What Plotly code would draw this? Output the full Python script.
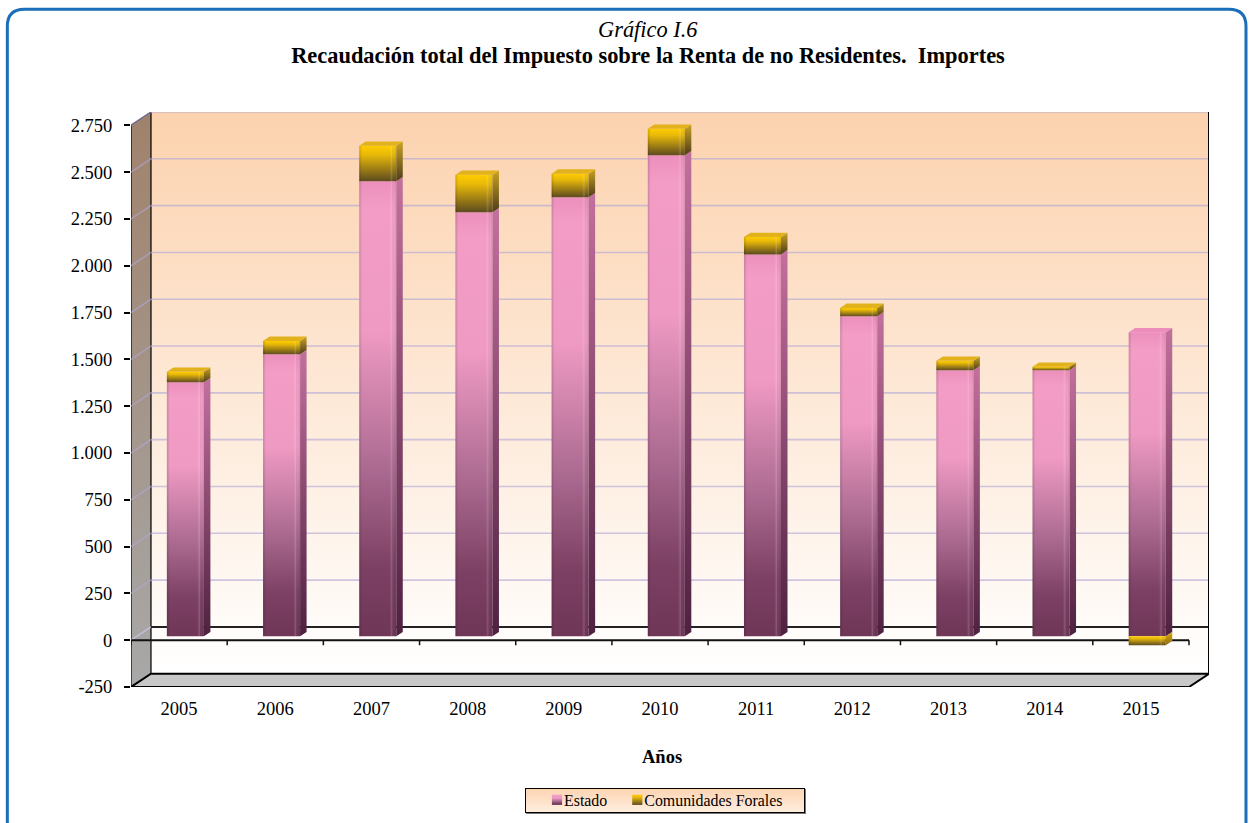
import plotly.graph_objects as go

years = ["2005","2006","2007","2008","2009","2010","2011","2012","2013","2014","2015"]
estado = [1357,1506,2430,2265,2345,2569,2040,1709,1421,1421,1624]
forales = [56,72,190,200,126,142,93,45,51,19,-48]
ytick_vals = [-250,0,250,500,750,1000,1250,1500,1750,2000,2250,2500,2750]
ytick_text = ["-250","0","250","500","750","1.000","1.250","1.500","1.750","2.000","2.250","2.500","2.750"]

W, H = 1251, 823
L, R, T, B = 130.7, 1209.0, 111.7, 686.7
N = len(years)
CAT_PX = (1189.0 - L) / N
DX = 20.0 / CAT_PX           # box depth in category units
DY = 71.0                    # box depth in value units
F0, F1 = 0.29, 0.615         # bar depth position inside the box
BW = 0.385
XSHIFT = 6.3 / CAT_PX
YMIN, YMAX = -250, 2750 + DY
XMAX = N + DX
FONT = "Liberation Serif"
base0 = F0 * DY

def px(x): return (x - L) / (R - L)
def py(y): return (B - y) / (B - T)

fig = go.Figure()

def poly(xs, ys, c0=None, c1=None, fill=None, line=None, lw=0, axes=1):
    kw = dict(x=xs + xs[:1], y=ys + ys[:1], mode="lines", fill="toself", showlegend=False,
              hoverinfo="skip", line=dict(width=lw, color=line or "rgba(0,0,0,0)"))
    if c0:
        kw["fillgradient"] = dict(type="vertical", colorscale=[[0, c0], [1, c1]])
    else:
        kw["fillcolor"] = fill
    if axes == 2:
        kw.update(xaxis="x2", yaxis="y2")
    fig.add_trace(go.Scatter(**kw))

def path(xs, ys, color, lw):
    fig.add_trace(go.Scatter(x=xs, y=ys, mode="lines", showlegend=False, hoverinfo="skip",
                             line=dict(color=color, width=lw)))

# box: walls and floor
poly([DX, XMAX, XMAX, DX], [YMIN + DY, YMIN + DY, YMAX, YMAX], c0="#ffffff", c1="#fcd2ae")
poly([0, DX, DX, 0], [YMIN, YMIN + DY, YMAX, 2750], c0="#a8a8a8", c1="#a0826b", line="#000000", lw=1.2)
poly([0, N, XMAX, DX], [YMIN, YMIN, YMIN + DY, YMIN + DY], fill="#c8c8c8", line="#000000", lw=2)
for v in ytick_vals[2:]:
    path([0, DX, XMAX], [v, v + DY, v + DY], "rgba(176,166,214,0.62)", 1.6)
path([0, DX], [0, DY], "rgba(200,190,225,0.9)", 1.4)
path([DX, XMAX], [DY, DY], "#222222", 2)
path([XMAX, XMAX], [YMIN + DY, YMAX], "#000000", 2)
path([0, N], [0, 0], "#111111", 2)
for i in range(N + 1):
    path([i, i], [0, -27], "#111111", 1.5)

# front faces
cx = [i + 0.5 + XSHIFT for i in range(N)]
fig.add_trace(go.Bar(x=cx, y=estado, base=[base0] * N, width=BW, name="Estado",
                     marker=dict(color="#b06d94", line=dict(width=0)), xaxis="x2", yaxis="y2", hoverinfo="skip"))
base2 = [e + base0 if f > 0 else base0 for e, f in zip(estado, forales)]
fig.add_trace(go.Bar(x=cx, y=forales, base=base2, width=BW, name="Comunidades Forales",
                     marker=dict(color="#b8960f", line=dict(width=0)), xaxis="x2", yaxis="y2", hoverinfo="skip"))

# side and top faces derived from the values
dx = (F1 - F0) * DX
dy = (F1 - F0) * DY
for i in range(N):
    xr = cx[i] + BW / 2
    xl = cx[i] - BW / 2
    b, t = base0, base0 + estado[i]
    poly([xr, xr + dx, xr + dx, xr], [b, b + dy, t + dy, t], c0="#4e2140", c1="#c3709e", axes=2)
    f = forales[i]
    if f > 0:
        poly([xr, xr + dx, xr + dx, xr], [t, t + dy, t + f + dy, t + f], c0="#4d3c18", c1="#c9a324", axes=2)
        poly([xl, xr, xr + dx, xl + dx], [t + f, t + f, t + f + dy, t + f + dy], fill="#e2b21c", axes=2)
    else:
        poly([xr, xr + dx, xr + dx, xr], [b + f, b + f + dy, b + dy, b], c0="#8a6d14", c1="#d9a90f", axes=2)
        poly([xl, xr, xr + dx, xl + dx], [t, t, t + dy, t + dy], fill="#ec8dbb", axes=2)

fig.update_layout(
    width=W, height=H, autosize=False,
    margin=dict(l=L, r=W - R, t=T, b=H - B, pad=0),
    paper_bgcolor="#ffffff", plot_bgcolor="rgba(0,0,0,0)",
    font=dict(family=FONT, color="#000000", size=18.5),
    barmode="overlay",
    title=dict(text="<b>Recaudación total del Impuesto sobre la Renta de no Residentes.\u00a0 Importes</b>",
               x=648 / W, xref="container", xanchor="center", y=1 - 55 / H, yref="container", yanchor="middle",
               font=dict(family=FONT, size=22.4, color="#000000")),
    xaxis=dict(range=[0, XMAX], tickmode="array", tickvals=[i + 0.5 for i in range(N)], ticktext=years,
               ticks="outside", ticklen=4.5, tickcolor="rgba(0,0,0,0)", showgrid=False, zeroline=False,
               showline=False, tickfont=dict(size=18.5), automargin=False),
    yaxis=dict(range=[YMIN, YMAX], tickmode="array", tickvals=ytick_vals, ticktext=ytick_text,
               ticks="outside", ticklen=6, tickwidth=1.5, tickcolor="#000000", showgrid=False, zeroline=False,
               showline=False, tickfont=dict(size=18.5), ticklabelstandoff=8, automargin=False),
    xaxis2=dict(range=[0, XMAX], overlaying="x", visible=False),
    yaxis2=dict(range=[YMIN, YMAX], overlaying="y", visible=False),
    legend=dict(orientation="h", xref="container", yref="container", x=665 / W, xanchor="center",
                y=1 - 800 / H, yanchor="middle",
                bgcolor="#fde3cc", bordercolor="#000000", borderwidth=1,
                font=dict(family=FONT, size=15.9, color="#000000"), traceorder="normal"),
    annotations=[
        dict(text="<i>Gráfico I.6</i>", x=px(648), y=py(29), font=dict(family=FONT, size=22.4, color="#000000"),
             xref="paper", yref="paper", showarrow=False, xanchor="center", yanchor="middle"),
        dict(text="<b>Años</b>", x=px(662), y=py(757), font=dict(family=FONT, size=18.5, color="#000000"),
             xref="paper", yref="paper", showarrow=False, xanchor="center", yanchor="middle"),
    ],
    shapes=[dict(type="path", xref="paper", yref="paper", layer="above",
                 path=" ".join([
                     f"M {px(7)},{py(840)}", f"L {px(7)},{py(26)}", f"Q {px(7)},{py(9)} {px(24)},{py(9)}",
                     f"L {px(1229)},{py(9)}", f"Q {px(1246)},{py(9)} {px(1246)},{py(26)}",
                     f"L {px(1246)},{py(840)}"]),
                 line=dict(color="#1a6fb8", width=3))],
)

post = r"""
document.body.style.margin='0';document.body.style.overflow='hidden';
var gd=document.getElementById('{plot_id}');
function applyGrad(){
  var svg=gd.querySelector('svg.main-svg'); if(!svg)return;
  var NS='http://www.w3.org/2000/svg';
  var defs=svg.querySelector('defs');
  function grad(id,horizontal,stops){
    if(svg.querySelector('#'+id))return;
    var g=document.createElementNS(NS,'linearGradient');g.setAttribute('id',id);
    g.setAttribute('x1','0');g.setAttribute('y1','0');
    g.setAttribute('x2',horizontal?'1':'0');g.setAttribute('y2',horizontal?'0':'1');
    stops.forEach(function(s){var e=document.createElementNS(NS,'stop');
      e.setAttribute('offset',s[0]);e.setAttribute('stop-color',s[1]);
      if(s[2]!==undefined)e.setAttribute('stop-opacity',s[2]);g.appendChild(e);});
    defs.appendChild(g);
  }
  grad('gEst',false,[[0,'#ec8fbc'],[0.06,'#f39dc6'],[0.33,'#ef9ac3'],[0.62,'#ae6c93'],[0.85,'#7c4064'],[1,'#6f3657']]);
  grad('gFor',false,[[0,'#ffcc00'],[0.25,'#e8b908'],[1,'#5d4a20']]);
  grad('gHi',true,[[0,'#000000',0.16],[0.08,'#000000',0.0],[0.82,'#ffffff',0.0],[0.88,'#ffffff',0.16],[0.93,'#000000',0.0],[1,'#000000',0.08]]);
  grad('gLeg',false,[[0,'#fdd3b0'],[1,'#ffeee0']]);
  var traces=gd.querySelectorAll('.barlayer .trace');
  traces.forEach(function(t,k){
    t.querySelectorAll('.hlx').forEach(function(e){e.remove();});
    t.querySelectorAll('.point path').forEach(function(p){
      p.style.fill='url(#'+(k==0?'gEst':'gFor')+')';p.style.fillOpacity=1;
      var c=p.cloneNode();c.setAttribute('class','hlx');c.style.fill='url(#gHi)';
      p.parentNode.appendChild(c);
    });
  });
  var items=gd.querySelectorAll('.legend .traces');
  items.forEach(function(it,k){
    var p=it.querySelector('.legendpoints path');
    if(p){p.style.fill='url(#'+(k==0?'gEst':'gFor')+')';p.setAttribute('transform','translate(28,0) scale(0.85)');}
    var tx=it.querySelector('.legendtext');if(tx)tx.setAttribute('x','35');
    if(k==1&&!it.dataset.moved){
      var m=/translate\(([-\d.]+),\s*([-\d.]+)\)/.exec(it.getAttribute('transform')||'');
      if(m){it.setAttribute('transform','translate('+(parseFloat(m[1])-8)+','+m[2]+')');it.dataset.moved='1';}
    }
  });
  var bg=gd.querySelector('.legend .bg');
  if(bg){bg.style.fill='url(#gLeg)';bg.style.filter='drop-shadow(1px 1px 0 #777)';
    if(!bg.dataset.moved){
      var w=parseFloat(bg.getAttribute('width')),h=parseFloat(bg.getAttribute('height')),
          x=parseFloat(bg.getAttribute('x')||0),y=parseFloat(bg.getAttribute('y')||0);
      bg.setAttribute('x',x-3);bg.setAttribute('width',w+6);
      bg.setAttribute('y',y+(h-24)/2);bg.setAttribute('height',24);bg.dataset.moved='1';
    }
  }
}
applyGrad();setTimeout(applyGrad,100);
"""
fig.write_html("out.html", post_script=post, config=dict(displayModeBar=False, responsive=False))
